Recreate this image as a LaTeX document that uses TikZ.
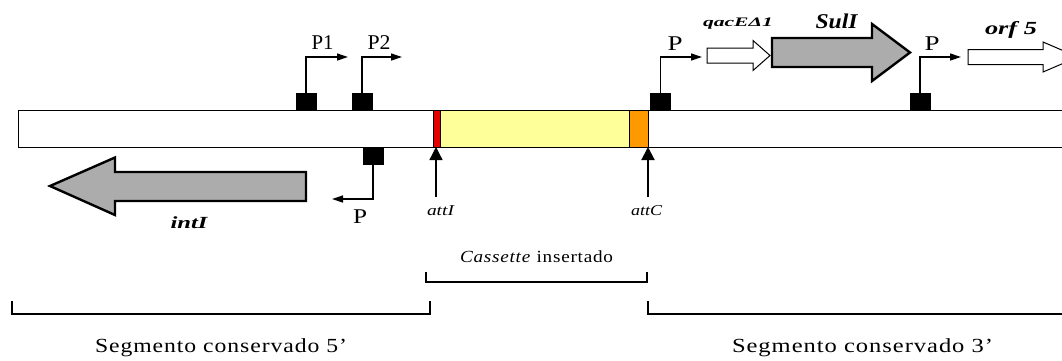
\documentclass[tikz,border=0pt]{standalone}
\usepackage{fontspec}
\setmainfont{Liberation Serif}
\usetikzlibrary{arrows.meta}
\newcommand\fitw[2]{\resizebox{#1}{\height}{#2}}
\definecolor{cassyellow}{RGB}{255,255,153}
\definecolor{attorange}{RGB}{255,153,0}
\definecolor{attred}{RGB}{230,0,0}
\definecolor{genegray}{RGB}{172,172,172}
\begin{document}
\begin{tikzpicture}[x=1pt,y=-1pt,
  promsq/.style={draw=black, fill=black, minimum width=20pt, minimum height=17pt, inner sep=0pt},
  parrow/.style={line width=1.3pt, -{Triangle[length=11pt,width=7pt]}},
  attarrow/.style={line width=1.3pt, -{Triangle[length=13pt,width=13pt]}},
  bigarrow/.style={draw=black, line width=2.4pt, fill=genegray, line join=miter},
  hollowarrow/.style={draw=black, line width=1pt, fill=white, line join=miter},
  bracketline/.style={line width=1.2pt, line join=miter},
  txt/.style={inner sep=0pt, anchor=base},
]
\clip (0,0) rectangle (1062,360);
\fill[white] (0,0) rectangle (1062,360);

% main bar
\draw[line width=0.9pt, fill=white] (18,110) rectangle (1080,147);
\draw[line width=0.9pt, fill=cassyellow] (440,110) rectangle (629,147);
\draw[line width=0.9pt, fill=attorange] (629,110) rectangle (648,147);
\draw[line width=0.9pt, fill=attred] (433,110) rectangle (440,147);

% promoter squares
\node[promsq] (p1) at (306,101.5) {};
\node[promsq] (p2) at (362,101.5) {};
\node[promsq] (p3) at (660.5,101.5) {};
\node[promsq] (p4) at (920,101.5) {};
\node[promsq] (pl) at (373,155.5) {};

\coordinate (e1) at (348,57);
\coordinate (e2) at (402,57);
\coordinate (e3) at (702,57);
\coordinate (e4) at (961,57);
\coordinate (el) at (332,199);

\draw[parrow] (p1.north) |- (e1);
\draw[parrow] (p2.north) |- (e2);
\draw[parrow] (p3.north) |- (e3);
\draw[parrow] (p4.north) |- (e4);
\draw[parrow] (pl.south) |- (el);

\node[txt, font=\fontsize{21}{24}\selectfont] (lp1) at (322.5,49) {\fitw{22pt}{P1}};
\node[txt, font=\fontsize{21}{24}\selectfont] (lp2) at (379,49) {\fitw{23pt}{P2}};
\node[txt, font=\fontsize{21}{24}\selectfont] (lp3) at (675,50) {\fitw{15pt}{P}};
\node[txt, font=\fontsize{21}{24}\selectfont] (lp4) at (932,50) {\fitw{15pt}{P}};
\node[txt, font=\fontsize{21}{24}\selectfont] (lpl) at (360,223) {\fitw{14pt}{P}};

% genes
\draw[hollowarrow] (707,48) -- (753,48) -- (753,40.5) -- (770,55.5) -- (753,70.5) -- (753,63) -- (707,63) -- cycle;
\draw[bigarrow] (772,38) -- (872,38) -- (872,24) -- (910,52.5) -- (872,81) -- (872,67) -- (772,67) -- cycle;
\draw[hollowarrow] (968,49.5) -- (1043,49.5) -- (1043,42) -- (1078,57) -- (1043,72) -- (1043,64.5) -- (968,64.5) -- cycle;
\draw[bigarrow] (306,172) -- (115,172) -- (115,157.5) -- (50,186) -- (115,215) -- (115,201) -- (306,201) -- cycle;

\node[txt, font=\fontsize{13}{15}\selectfont\bfseries\itshape] (lqac) at (738,26) {\fitw{70pt}{qacEΔ1}};
\node[txt, font=\fontsize{21}{24}\selectfont\bfseries\itshape] (lsul) at (836.5,28) {\fitw{42pt}{SulI}};
\node[txt, font=\fontsize{18.5}{21}\selectfont\bfseries\itshape] (lorf) at (1011,34) {\fitw{52pt}{orf 5}};
\node[txt, font=\fontsize{17}{20}\selectfont\bfseries\itshape] (lint) at (189,228) {\fitw{37pt}{intI}};

% att sites
\coordinate (atti) at (436,147);
\coordinate (attc) at (648,147);
\coordinate (atti0) at (436,197);
\coordinate (attc0) at (648,197);
\draw[attarrow] (atti0) -- (atti);
\draw[attarrow, line width=2pt] (attc0) -- (attc);
\node[txt, font=\fontsize{15}{17}\selectfont\itshape] (latti) at (440.5,215) {\fitw{27pt}{attI}};
\node[txt, font=\fontsize{15}{17}\selectfont\itshape] (lattc) at (646.5,215) {\fitw{31pt}{attC}};

% brackets
\draw[bracketline] (426,272) -- (426,282) -- (647,282) -- (647,272);
\draw[bracketline] (12,301) -- (12,314) -- (430,314) -- (430,301);
\draw[bracketline] (648,301) -- (648,314) -- (1070,314);

\node[txt, font=\fontsize{17}{20}\selectfont] (lcas) at (536.5,262) {\fitw{153pt}{\addfontfeature{LetterSpace=4}\textit{Cassette} insertado}};
\node[txt, font=\fontsize{20}{23}\selectfont] (l5) at (221,352) {\fitw{252pt}{\addfontfeature{LetterSpace=4}Segmento conservado 5’}};
\node[txt, font=\fontsize{20}{23}\selectfont] (l3) at (862.5,352) {\fitw{261pt}{\addfontfeature{LetterSpace=4}Segmento conservado 3’}};
\end{tikzpicture}
\end{document}
